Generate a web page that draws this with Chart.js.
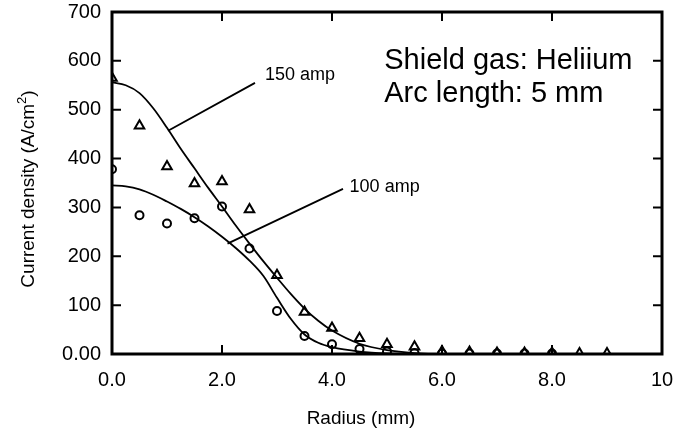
<!DOCTYPE html>
<html>
<head>
<meta charset="utf-8">
<script src="https://cdn.jsdelivr.net/npm/chart.js@4"></script>
<style>
  html, body { margin: 0; padding: 0; background: #fff; }
  #wrap { width: 691px; height: 432px; }
</style>
</head>
<body>
<div id="wrap"><canvas id="chart"></canvas></div>
<script>
// Measured points (Radius mm -> A/cm^2)
const amp150X = [0, 0.5, 1.0, 1.5, 2.0, 2.5, 3.0, 3.5, 4.0, 4.5, 5.0, 5.5, 6.0, 6.5, 7.0, 7.5, 8.0, 8.5, 9.0];
const amp150Y = [565, 467, 384, 349, 353, 296, 161, 86, 53, 32, 20, 15, 5, 4, 2, 2, 2, 1, 1];
const amp100X = [0, 0.5, 1.0, 1.5, 2.0, 2.5, 3.0, 3.5, 4.0, 4.5, 5.0, 5.5, 6.0, 6.5, 7.0, 7.5, 8.0];
const amp100Y = [378, 284, 267, 278, 302, 216, 88, 37, 20, 10, 5, 2, 1, 1, 1, 1, 1];

// Fitted curves
const fitX = [0, 0.25, 0.5, 0.75, 1.0, 1.25, 1.5, 1.75, 2.0, 2.25, 2.5, 2.75, 3.0, 3.25, 3.5, 3.75, 4.0, 4.5, 5.0, 5.5, 6.0, 7.0, 8.0, 9.0];
const fit150Y = [556, 550, 534, 503, 463, 420, 380, 340, 302, 263, 226, 190, 156, 123, 93, 68, 48, 21, 8, 2, 0, 0, 0, 0];
const fit100Y = [345, 343, 337, 326, 312, 297, 280, 261, 240, 217, 191, 160, 115, 72, 40, 23, 14, 5, 1, 0, 0, 0, 0, 0];

const xTicks = [0, 2, 4, 6, 8, 10];
const yTicks = [0, 100, 200, 300, 400, 500, 600, 700];

const pts = (xs, ys) => xs.map((x, i) => ({ x, y: ys[i] }));

const FONT = '"Liberation Sans", Arial, Helvetica, sans-serif';

// Frame with inward ticks, leader labels and axis titles
const decor = {
  id: 'decor',
  afterDatasetsDraw(chart) {
    const { ctx, chartArea: a, scales: { x, y } } = chart;
    ctx.save();
    ctx.strokeStyle = '#000';
    ctx.lineWidth = 3;
    ctx.strokeRect(a.left, a.top, a.right - a.left, a.bottom - a.top);

    ctx.lineWidth = 2;
    const tl = 9;
    ctx.beginPath();
    xTicks.forEach(v => {
      const px = x.getPixelForValue(v);
      ctx.moveTo(px, a.bottom); ctx.lineTo(px, a.bottom - tl);
      ctx.moveTo(px, a.top); ctx.lineTo(px, a.top + tl);
    });
    yTicks.forEach(v => {
      const py = y.getPixelForValue(v);
      ctx.moveTo(a.left, py); ctx.lineTo(a.left + tl, py);
      ctx.moveTo(a.right, py); ctx.lineTo(a.right - tl, py);
    });
    ctx.stroke();

    // leader lines
    ctx.lineWidth = 1.8;
    ctx.beginPath();
    ctx.moveTo(x.getPixelForValue(2.6), y.getPixelForValue(555));
    ctx.lineTo(x.getPixelForValue(1.02), y.getPixelForValue(457));
    ctx.moveTo(x.getPixelForValue(4.2), y.getPixelForValue(338));
    ctx.lineTo(x.getPixelForValue(2.1), y.getPixelForValue(226));
    ctx.stroke();

    ctx.fillStyle = '#000';
    ctx.textBaseline = 'middle';
    ctx.textAlign = 'left';
    ctx.font = '18px ' + FONT;
    ctx.fillText('150 amp', x.getPixelForValue(2.78), y.getPixelForValue(572));
    ctx.fillText('100 amp', x.getPixelForValue(4.32), y.getPixelForValue(342));

    ctx.font = '29px ' + FONT;
    ctx.fillText('Shield gas: Heliium', x.getPixelForValue(4.95), y.getPixelForValue(600));
    ctx.fillText('Arc length: 5 mm', x.getPixelForValue(4.95), y.getPixelForValue(533));

    // axis titles
    ctx.font = '19px ' + FONT;
    ctx.textAlign = 'center';
    ctx.fillText('Radius (mm)', 361, 419);

    // rotated y title with superscript 2
    ctx.translate(29, 189);
    ctx.rotate(-Math.PI / 2);
    const main = 'Current density (A/cm';
    const close = ')';
    ctx.font = '13px ' + FONT;
    const wSup = ctx.measureText('2').width;
    ctx.font = '19px ' + FONT;
    const wMain = ctx.measureText(main).width;
    const wClose = ctx.measureText(close).width;
    let sx = -(wMain + wSup + wClose) / 2;
    ctx.textAlign = 'left';
    ctx.fillText(main, sx, 0);
    sx += wMain;
    ctx.font = '13px ' + FONT;
    ctx.fillText('2', sx, -7);
    sx += wSup;
    ctx.font = '19px ' + FONT;
    ctx.fillText(close, sx, 0);
    ctx.restore();
  }
};

new Chart(document.getElementById('chart'), {
  type: 'scatter',
  data: {
    datasets: [
      {
        label: '150 amp data', data: pts(amp150X, amp150Y),
        pointStyle: 'triangle', pointRadius: 5.5, borderWidth: 2,
        borderColor: '#000', backgroundColor: 'rgba(0,0,0,0)', showLine: false
      },
      {
        label: '100 amp data', data: pts(amp100X, amp100Y),
        pointStyle: 'circle', pointRadius: 4, borderWidth: 2,
        borderColor: '#000', backgroundColor: 'rgba(0,0,0,0)', showLine: false
      },
      {
        label: '150 amp fit', data: pts(fitX, fit150Y),
        showLine: true, pointRadius: 0, borderColor: '#000', borderWidth: 1.8,
        cubicInterpolationMode: 'monotone', fill: false
      },
      {
        label: '100 amp fit', data: pts(fitX, fit100Y),
        showLine: true, pointRadius: 0, borderColor: '#000', borderWidth: 1.8,
        cubicInterpolationMode: 'monotone', fill: false
      }
    ]
  },
  options: {
    responsive: true, maintainAspectRatio: false, animation: false,
    layout: { autoPadding: false, padding: { top: 12, right: 29, left: 0, bottom: 0 } },
    plugins: { legend: { display: false }, tooltip: { enabled: false } },
    scales: {
      x: {
        type: 'linear', min: 0, max: 10,
        afterBuildTicks: (s) => { s.ticks = xTicks.map(v => ({ value: v })); },
        afterFit: (s) => { s.height = 78; s.paddingLeft = 0; s.paddingRight = 0; },
        grid: { display: false, drawTicks: false }, border: { display: false },
        ticks: {
          color: '#000', padding: 14, maxRotation: 0,
          font: { family: FONT, size: 20 },
          callback: (v) => v === 10 ? '10' : v.toFixed(1)
        }
      },
      y: {
        min: 0, max: 700,
        afterBuildTicks: (s) => { s.ticks = yTicks.map(v => ({ value: v })); },
        afterFit: (s) => { s.width = 112; s.paddingTop = 0; s.paddingBottom = 0; },
        grid: { display: false, drawTicks: false }, border: { display: false },
        ticks: {
          color: '#000', padding: 11,
          font: { family: FONT, size: 20 },
          callback: (v) => v === 0 ? '0.00' : String(v)
        }
      }
    }
  },
  plugins: [decor]
});
</script>
</body>
</html>
